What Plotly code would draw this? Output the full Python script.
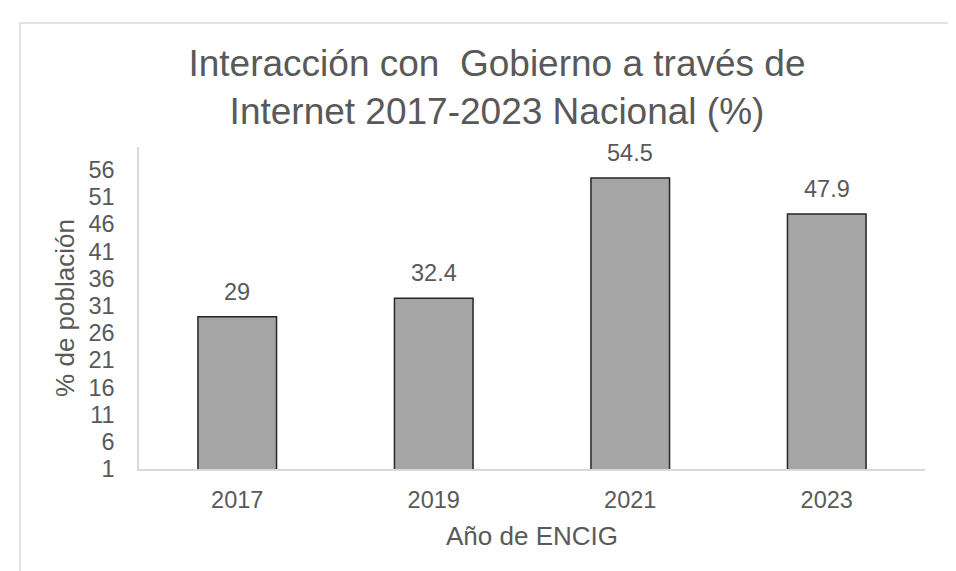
import plotly.graph_objects as go

GRIS = '#595959'
FUENTE = 'Liberation Sans, Arial, sans-serif'

anios = ['2017', '2019', '2021', '2023']
valores = [29, 32.4, 54.5, 47.9]
etiquetas = ['29', '32.4', '54.5', '47.9']
ticks_y = list(range(1, 57, 5))

fig = go.Figure(go.Bar(
    x=anios, y=valores,
    marker=dict(color='#A5A5A5', line=dict(color='#262626', width=1.5)),
))

# etiquetas de datos encima de cada barra (x por índice de categoría)
for i, (v, t) in enumerate(zip(valores, etiquetas)):
    fig.add_annotation(x=i, y=v, text=t, showarrow=False, yanchor='bottom', yshift=10,
                       font=dict(size=23.5, color=GRIS, family=FUENTE))

# borde del área del gráfico
fig.add_shape(type='rect', xref='paper', yref='paper', x0=-0.1514, x1=1.3, y0=-0.6, y1=1.385,
              line=dict(color='#D9D9D9', width=1.5), fillcolor='rgba(0,0,0,0)')

fig.update_layout(
    width=956, height=571,
    margin=dict(l=131, r=39, t=139, b=110),
    plot_bgcolor='white', paper_bgcolor='white',
    bargap=0.6, showlegend=False,
    font=dict(family=FUENTE, color=GRIS, size=23.5),
    title=dict(text='Interacción con  Gobierno a través de<br>Internet 2017-2023 Nacional (%)',
               x=0.5115, xanchor='center', y=0.881, yanchor='top',
               font=dict(size=37, color=GRIS, family=FUENTE)),
    xaxis=dict(type='category', range=[-0.5, 3.5],
               title=dict(text='Año de ENCIG', font=dict(size=26), standoff=15),
               showline=True, linecolor='#D9D9D9', linewidth=1.5,
               ticks='', ticklabelstandoff=9, tickfont=dict(size=23.5)),
    yaxis=dict(title=dict(text='% de población', font=dict(size=26), standoff=6),
               range=[1, 60.2], tickvals=ticks_y, showgrid=False, zeroline=False,
               showline=True, linecolor='#D9D9D9', linewidth=1.5,
               ticks='', ticklabelstandoff=18, tickfont=dict(size=23.5)),
)

fig.write_html('out.html')
